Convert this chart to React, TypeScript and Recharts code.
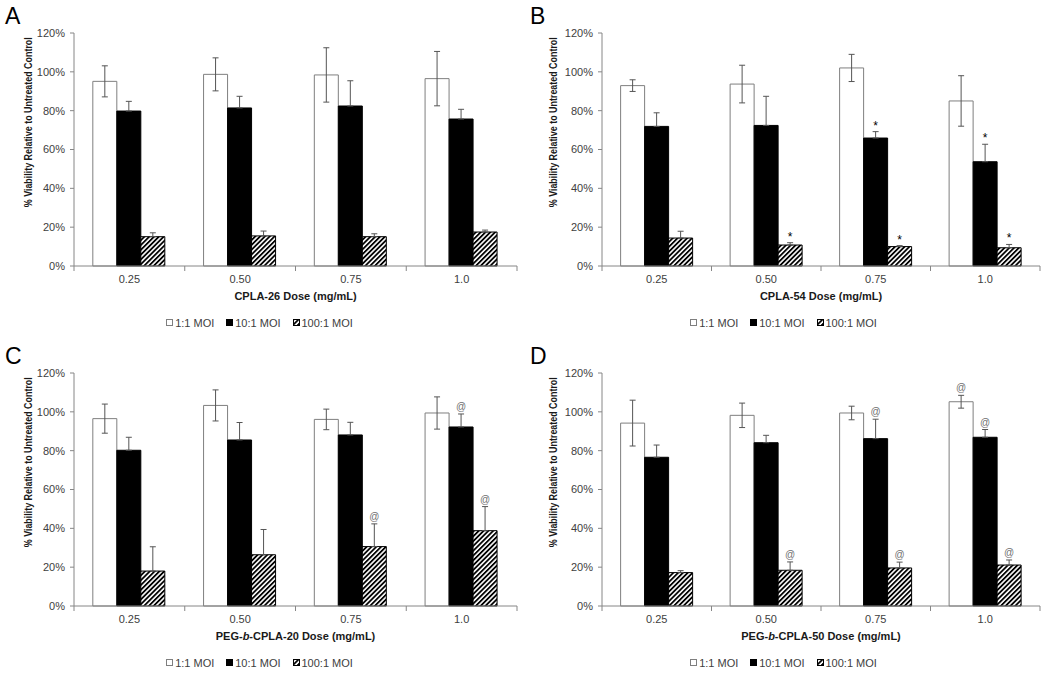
import React from 'react';
import { BarChart, Bar, XAxis, YAxis, ErrorBar, Legend, LabelList } from 'recharts';

// ---- shared ----
const categories = ['0.25', '0.50', '0.75', '1.0'];
const yTicks = [0, 20, 40, 60, 80, 100, 120];
const seriesNames = ['1:1 MOI', '10:1 MOI', '100:1 MOI'];

// ---- Panel A: CPLA-26 ----
const aV1 = [95.1, 98.7, 98.4, 96.5];
const aE1 = [8, 8.5, 14, 14];
const aV10 = [79.8, 81.4, 82.4, 75.7];
const aE10 = [5, 6, 13, 5];
const aV100 = [15.1, 15.5, 15.1, 17.5];
const aE100 = [2, 2.5, 1.5, 1];
const aM1 = ['', '', '', ''];
const aM10 = ['', '', '', ''];
const aM100 = ['', '', '', ''];

// ---- Panel B: CPLA-54 ----
const bV1 = [92.9, 93.7, 102, 85];
const bE1 = [3, 9.7, 7, 13];
const bV10 = [71.9, 72.4, 65.9, 53.7];
const bE10 = [7, 15, 3.3, 9];
const bV100 = [14.4, 10.8, 10, 9.4];
const bE100 = [3.5, 1.2, 0.5, 1.7];
const bM1 = ['', '', '', ''];
const bM10 = ['', '', '*', '*'];
const bM100 = ['', '*', '*', '*'];

// ---- Panel C: PEG-b-CPLA-20 ----
const cV1 = [96.5, 103.3, 96.1, 99.4];
const cE1 = [7.5, 8, 5.3, 8.3];
const cV10 = [80.2, 85.5, 88.1, 92.2];
const cE10 = [6.7, 9, 6.5, 6.7];
const cV100 = [18, 26.4, 30.6, 38.8];
const cE100 = [12.5, 13, 11.7, 12.4];
const cM1 = ['', '', '', ''];
const cM10 = ['', '', '', '@'];
const cM100 = ['', '', '@', '@'];

// ---- Panel D: PEG-b-CPLA-50 ----
const dV1 = [94.2, 98.2, 99.4, 105.2];
const dE1 = [11.8, 6.3, 3.5, 3.3];
const dV10 = [76.6, 84.1, 86.2, 86.9];
const dE10 = [6.3, 3.8, 10, 4];
const dV100 = [17.2, 18.4, 19.6, 21.1];
const dE100 = [1, 4.3, 3, 2.6];
const dM1 = ['', '', '', '@'];
const dM10 = ['', '', '@', '@'];
const dM100 = ['', '@', '@', '@'];

const FONT = '"Liberation Sans", Arial, sans-serif';
const AXIS = '#868686';
const TEXT = '#404040';

function buildRows(v1, e1, v10, e10, v100, e100, m1, m10, m100) {
  return categories.map((c, i) => ({
    cat: c,
    v1: v1[i],
    e1: e1[i],
    v10: v10[i],
    e10: [0, e10[i]],
    v100: v100[i],
    e100: [0, e100[i]],
    k1: m1[i] ? `${m1[i]}|${e1[i]}|${v1[i]}` : '',
    k10: m10[i] ? `${m10[i]}|${e10[i]}|${v10[i]}` : '',
    k100: m100[i] ? `${m100[i]}|${e100[i]}|${v100[i]}` : '',
  }));
}

const Mark = (props: any) => {
  const { x, y, width, height, value } = props;
  if (!value) return null;
  const [sym, errS, valS] = String(value).split('|');
  const err = Number(errS);
  const val = Number(valS);
  const h = Math.abs(Number(height));
  const ppu = h / val;
  const top = Math.min(Number(y), Number(y) + Number(height)) - err * ppu;
  const isAt = sym === '@';
  return (
    <text
      x={Number(x) + Number(width) / 2}
      y={top - (isAt ? 4 : 2)}
      textAnchor="middle"
      fontSize={isAt ? 10 : 12}
      fontFamily={FONT}
      fill={isAt ? '#707070' : '#000'}
    >
      {sym}
    </text>
  );
};

const XTick = (props: any) => {
  const { x, y, payload, index, visibleTicksCount, width } = props;
  const count = visibleTicksCount || categories.length;
  const half = payload && payload.offset ? payload.offset : width / (2 * count);
  const axisY = y - 9;
  const isLast = index === count - 1 || (payload && payload.value === categories[categories.length - 1]);
  return (
    <g>
      <line x1={x - half} x2={x - half} y1={axisY} y2={axisY + 5} stroke={AXIS} />
      {isLast && <line x1={x + half} x2={x + half} y1={axisY} y2={axisY + 5} stroke={AXIS} />}
      <text x={x} y={y} dy="0.71em" textAnchor="middle" fontSize={11} fontFamily={FONT} fill={TEXT}>
        {payload.value}
      </text>
    </g>
  );
};

const LegendContent = ({ hatchId }: { hatchId: string }) => {
  const item = (icon: React.ReactNode, label: string) => (
    <div style={{ display: 'flex', alignItems: 'center', marginRight: 12 }}>
      {icon}
      <span style={{ marginLeft: 1 }}>{label}</span>
    </div>
  );
  return (
    <div
      style={{
        height: 20,
        display: 'flex',
        justifyContent: 'center',
        alignItems: 'center',
        fontFamily: FONT,
        fontSize: 11,
        color: TEXT,
        paddingLeft: 14,
      }}
    >
      {item(
        <svg width={8} height={8}>
          <rect x={0.5} y={0.5} width={6} height={6} fill="#fff" stroke="#7f7f7f" />
        </svg>,
        seriesNames[0]
      )}
      {item(
        <svg width={8} height={8}>
          <rect x={0.5} y={0.5} width={6} height={6} fill="#000" stroke="#000" />
        </svg>,
        seriesNames[1]
      )}
      {item(
        <svg width={8} height={8}>
          <rect x={0.5} y={0.5} width={6} height={6} fill={`url(#${hatchId})`} stroke="#000" />
        </svg>,
        seriesNames[2]
      )}
    </div>
  );
};

function Panel({
  letter,
  title,
  rows,
  left,
  top,
  yAxisWidth,
  rightMargin,
  hatchId,
}: any) {
  return (
    <div style={{ position: 'absolute', left, top, width: 525, height: 333 }}>
      <BarChart
        width={525}
        height={333}
        data={rows}
        margin={{ top: 33, right: rightMargin, left: 0, bottom: 0 }}
        barGap={0}
        barCategoryGap="17%"
      >
        <XAxis
          dataKey="cat"
          stroke={AXIS}
          tickLine={false}
          tickSize={0}
          tickMargin={9}
          height={47}
          interval={0}
          tick={<XTick />}
          label={(p: any) => {
            const vb = p.viewBox || {};
            return (
              <text
                x={vb.x + vb.width / 2}
                y={vb.y + 34}
                textAnchor="middle"
                fontSize={11}
                fontWeight="bold"
                fontFamily={FONT}
                fill="#1a1a1a"
              >
                {title}
              </text>
            );
          }}
        />
        <YAxis
          width={yAxisWidth}
          domain={[0, 120]}
          ticks={yTicks}
          interval={0}
          stroke={AXIS}
          tickSize={4}
          tickMargin={5}
          tick={{ fontSize: 11, fontFamily: FONT, fill: TEXT }}
          tickFormatter={(v: number) => `${v}%`}
          label={(p: any) => {
            const vb = p.viewBox || {};
            const cx = vb.x + 28;
            const cy = vb.y + vb.height * 0.383;
            return (
              <text
                x={cx}
                y={cy}
                transform={`rotate(-90 ${cx} ${cy})`}
                textAnchor="middle"
                dominantBaseline="central"
                fontSize={10.5}
                fontWeight="bold"
                fontFamily={FONT}
                fill="#1a1a1a"
                textLength={170}
                lengthAdjust="spacingAndGlyphs"
              >
                % Viability  Relative to Untreated Control
              </text>
            );
          }}
        />
        <Legend verticalAlign="bottom" height={20} content={() => <LegendContent hatchId={hatchId} />} />
        <Bar dataKey="v1" name={seriesNames[0]} fill="#fff" stroke="#7f7f7f" strokeWidth={1} isAnimationActive={false}>
          <ErrorBar dataKey="e1" width={3} stroke="#555" strokeWidth={1} isAnimationActive={false} />
          <LabelList dataKey="k1" content={Mark} />
        </Bar>
        <Bar dataKey="v10" name={seriesNames[1]} fill="#000" stroke="#000" strokeWidth={1} isAnimationActive={false}>
          <ErrorBar dataKey="e10" width={3} stroke="#555" strokeWidth={1} isAnimationActive={false} />
          <LabelList dataKey="k10" content={Mark} />
        </Bar>
        <Bar
          dataKey="v100"
          name={seriesNames[2]}
          fill={`url(#${hatchId})`}
          stroke="#000"
          strokeWidth={1}
          isAnimationActive={false}
        >
          <ErrorBar dataKey="e100" width={3} stroke="#555" strokeWidth={1} isAnimationActive={false} />
          <LabelList dataKey="k100" content={Mark} />
        </Bar>
      </BarChart>
      <div
        style={{
          position: 'absolute',
          left: 5,
          top: 4,
          fontFamily: FONT,
          fontSize: 23,
          lineHeight: '24px',
          color: '#000',
        }}
      >
        {letter}
      </div>
    </div>
  );
}

export default function App() {
  const rowsA = buildRows(aV1, aE1, aV10, aE10, aV100, aE100, aM1, aM10, aM100);
  const rowsB = buildRows(bV1, bE1, bV10, bE10, bV100, bE100, bM1, bM10, bM100);
  const rowsC = buildRows(cV1, cE1, cV10, cE10, cV100, cE100, cM1, cM10, cM100);
  const rowsD = buildRows(dV1, dE1, dV10, dE10, dV100, dE100, dM1, dM10, dM100);
  return (
    <div
      style={{
        position: 'absolute',
        left: 0,
        top: 0,
        width: 1050,
        height: 673,
        background: '#fff',
        overflow: 'hidden',
      }}
    >
      <svg width={0} height={0} style={{ position: 'absolute' }}>
        <defs>
          <pattern
            id="hatchMain"
            width={3.4}
            height={3.4}
            patternUnits="userSpaceOnUse"
            patternTransform="rotate(45)"
          >
            <rect width={3.4} height={3.4} fill="#fff" />
            <rect x={0} y={0} width={1.8} height={3.4} fill="#000" />
          </pattern>
        </defs>
      </svg>
      <Panel letter="A" title="CPLA-26 Dose (mg/mL)" rows={rowsA} left={0} top={0} yAxisWidth={74} rightMargin={8} hatchId="hatchMain" />
      <Panel letter="B" title="CPLA-54 Dose (mg/mL)" rows={rowsB} left={525} top={0} yAxisWidth={77} rightMargin={10} hatchId="hatchMain" />
      <Panel
        letter="C"
        title={
          <tspan>
            PEG-<tspan fontStyle="italic">b</tspan>-CPLA-20 Dose (mg/mL)
          </tspan>
        }
        rows={rowsC}
        left={0}
        top={340}
        yAxisWidth={74}
        rightMargin={8}
        hatchId="hatchMain"
      />
      <Panel
        letter="D"
        title={
          <tspan>
            PEG-<tspan fontStyle="italic">b</tspan>-CPLA-50 Dose (mg/mL)
          </tspan>
        }
        rows={rowsD}
        left={525}
        top={340}
        yAxisWidth={77}
        rightMargin={10}
        hatchId="hatchMain"
      />
    </div>
  );
}
